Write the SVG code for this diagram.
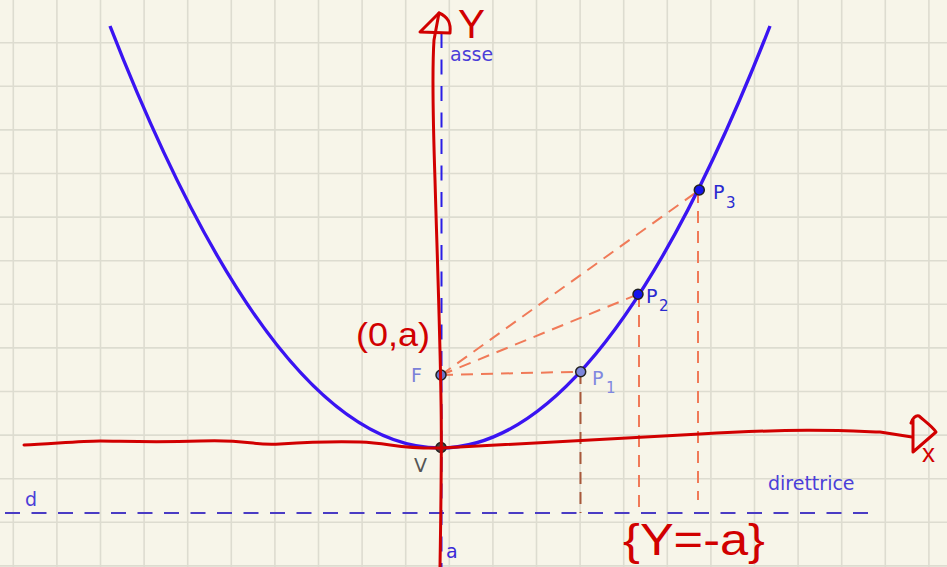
<svg xmlns="http://www.w3.org/2000/svg" width="947" height="567" viewBox="0 0 947 567">
<defs>
<style>
.grid line{stroke:#dddcd0;stroke-width:1.6}
.lbl{font-family:"DejaVu Sans",sans-serif;font-size:19px}
.sub{font-family:"DejaVu Sans",sans-serif;font-size:15px}
.hand{font-family:"Liberation Sans",Arial,sans-serif;fill:#d10000}
.red{fill:none;stroke:#d10000;stroke-width:3;stroke-linecap:round;stroke-linejoin:round}
.orange{fill:none;stroke:#f07a58;stroke-width:2;stroke-dasharray:12 8}
.blued{fill:none;stroke:#4a3cc4;stroke-width:2;stroke-dasharray:15 11.5}
.pt{stroke:#222;stroke-width:1.5}
</style>
</defs>
<rect width="947" height="567" fill="#f7f5e9"/>
<g class="grid">
<line x1="13.3" y1="0" x2="13.3" y2="567"/><line x1="56.9" y1="0" x2="56.9" y2="567"/><line x1="100.5" y1="0" x2="100.5" y2="567"/><line x1="144.1" y1="0" x2="144.1" y2="567"/><line x1="187.7" y1="0" x2="187.7" y2="567"/><line x1="231.3" y1="0" x2="231.3" y2="567"/><line x1="274.9" y1="0" x2="274.9" y2="567"/><line x1="318.5" y1="0" x2="318.5" y2="567"/><line x1="362.1" y1="0" x2="362.1" y2="567"/><line x1="405.7" y1="0" x2="405.7" y2="567"/><line x1="449.3" y1="0" x2="449.3" y2="567"/><line x1="492.9" y1="0" x2="492.9" y2="567"/><line x1="536.5" y1="0" x2="536.5" y2="567"/><line x1="580.1" y1="0" x2="580.1" y2="567"/><line x1="623.7" y1="0" x2="623.7" y2="567"/><line x1="667.3" y1="0" x2="667.3" y2="567"/><line x1="710.9" y1="0" x2="710.9" y2="567"/><line x1="754.5" y1="0" x2="754.5" y2="567"/><line x1="798.1" y1="0" x2="798.1" y2="567"/><line x1="841.7" y1="0" x2="841.7" y2="567"/><line x1="885.3" y1="0" x2="885.3" y2="567"/><line x1="928.9" y1="0" x2="928.9" y2="567"/>
<line x1="0" y1="42.7" x2="947" y2="42.7"/><line x1="0" y1="86.3" x2="947" y2="86.3"/><line x1="0" y1="129.9" x2="947" y2="129.9"/><line x1="0" y1="173.5" x2="947" y2="173.5"/><line x1="0" y1="217.1" x2="947" y2="217.1"/><line x1="0" y1="260.7" x2="947" y2="260.7"/><line x1="0" y1="304.3" x2="947" y2="304.3"/><line x1="0" y1="347.9" x2="947" y2="347.9"/><line x1="0" y1="391.5" x2="947" y2="391.5"/><line x1="0" y1="435.1" x2="947" y2="435.1"/><line x1="0" y1="478.7" x2="947" y2="478.7"/><line x1="0" y1="522.3" x2="947" y2="522.3"/><line x1="0" y1="565.9" x2="947" y2="565.9"/>
</g>
<g id="connectors">
<line class="blued" x1="5" y1="513" x2="876" y2="513"/>
<line class="blued" x1="441.5" y1="33" x2="441.5" y2="567" style="stroke:#2a1ee6"/>
<line class="orange" x1="441" y1="375" x2="580.7" y2="371.7"/>
<line class="orange" x1="441" y1="375" x2="638" y2="294.3"/>
<line class="orange" x1="441" y1="375" x2="699.3" y2="190"/>
<line class="orange" x1="580.5" y1="372" x2="580.5" y2="513" style="stroke:#a8583a"/>
<line class="orange" x1="639" y1="295" x2="639" y2="513"/>
<line class="orange" x1="698" y1="191" x2="698" y2="500"/>
</g>
<g id="parabola">
<path d="M110,26 Q440,870 770,26" fill="none" stroke="#3a14f2" stroke-width="3.4"/>
</g>
<g id="labels-lines">
<text class="lbl" x="450" y="61" fill="#4b3ed8">asse</text>
<text class="lbl" x="446" y="558" fill="#3a2ad8">a</text>
<text class="lbl" x="25" y="506" fill="#4b3ed8">d</text>
<text class="lbl" x="768" y="490" fill="#4b3ed8">direttrice</text>
</g>
<g id="F">
<circle class="pt" cx="441" cy="375" r="5" fill="#6a74c8"/>
<text class="lbl" x="411" y="382" fill="#7b82d8">F</text>
</g>
<g id="V">
<circle class="pt" cx="441" cy="447.5" r="5" fill="#444"/>
<text class="lbl" x="414" y="472" fill="#555">V</text>
</g>
<g id="P1">
<circle class="pt" cx="580.7" cy="371.7" r="5" fill="#7d86db"/>
<text class="lbl" x="592" y="385" fill="#8088e0">P</text><text class="sub" x="606" y="393" fill="#8088e0">1</text>
</g>
<g id="P2">
<circle class="pt" cx="638" cy="294.3" r="5" fill="#1414ee"/>
<text class="lbl" x="646" y="303" fill="#2a2ad0">P</text><text class="sub" x="659" y="311" fill="#2a2ad0">2</text>
</g>
<g id="P3">
<circle class="pt" cx="699.3" cy="190" r="5" fill="#1414ee"/>
<text class="lbl" x="713" y="199" fill="#2a2ad0">P</text><text class="sub" x="726" y="208" fill="#2a2ad0">3</text>
</g>
<g id="annotations">
<path class="red" d="M440,567 C441,500 442,450 441,400 C440,330 437,250 435,180 C433,120 432,70 434,40 L439,13"/>
<path class="red" d="M439,13 L420,32 L450,33 C451,24 449,17 439,13"/>
<path class="red" d="M24,445 C50,444 80,441 100,441 S150,443 200,441 S250,446 280,444 S330,441 360,442 S400,449 441,448 C520,444 600,440 700,434 S850,431 880,432 L912,437"/>
<path class="red" d="M913,420 L913,452 M911,423 C913,418 915,415 919,416 C926,422 933,427 936,432 L913,452"/>
<text class="hand" x="922" y="462" font-size="26">x</text>
<text class="hand" x="458" y="38" font-size="40" textLength="27" lengthAdjust="spacingAndGlyphs">Y</text>
<text class="hand" x="356" y="346" font-size="34" textLength="74" lengthAdjust="spacingAndGlyphs">(0,a)</text>
<text class="hand" x="623" y="555" font-size="44" textLength="142" lengthAdjust="spacingAndGlyphs">{Y=-a}</text>
</g>
</svg>
